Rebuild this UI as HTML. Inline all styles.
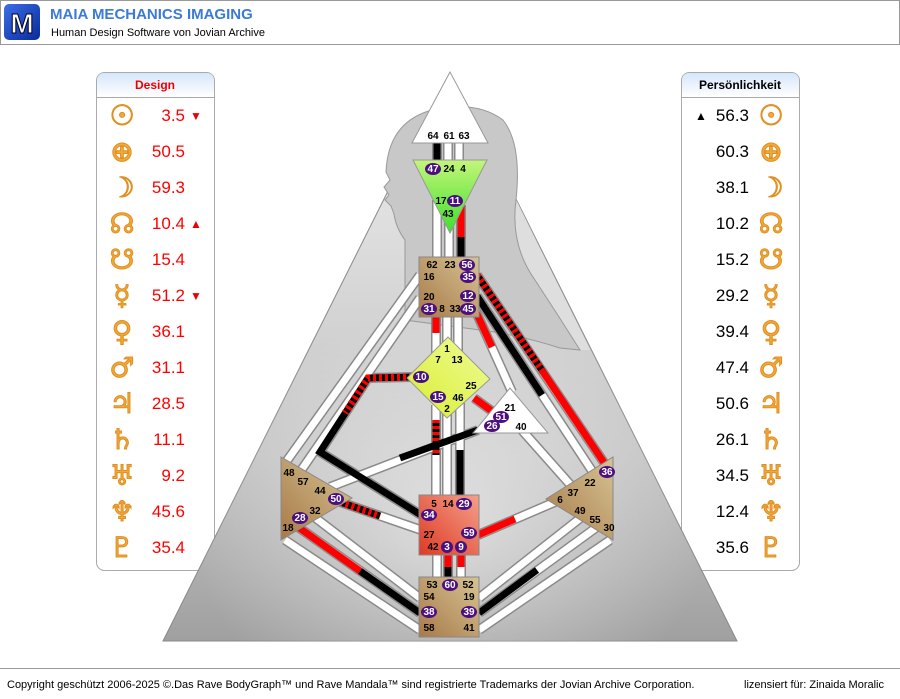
<!DOCTYPE html>
<html><head><meta charset="utf-8"><style>
body{margin:0;width:900px;height:699px;overflow:hidden;background:#fff;font-family:"Liberation Sans",sans-serif}
svg{display:block}
.o{stroke:#8a8a8a;stroke-width:10;fill:none}
.w{stroke:#fff;stroke-width:7;fill:none}
.k{stroke:#000;stroke-width:7;fill:none}
.r{stroke:#f00;stroke-width:7;fill:none}
.s{stroke:#f00;stroke-width:7;fill:none;stroke-dasharray:3 3}
.l{font:bold 10px "Liberation Sans",sans-serif;fill:#000;text-anchor:middle}
.v{font:bold 10px "Liberation Sans",sans-serif;fill:#fff;text-anchor:middle}
.pl{font:bold 28px "DejaVu Sans",sans-serif;fill:#f2a83a;stroke:#e09020;stroke-width:1;text-anchor:middle}
.dv{font:17px "Liberation Sans",sans-serif;fill:#f00;text-anchor:end}
.pv{font:17px "Liberation Sans",sans-serif;fill:#000;text-anchor:end}
</style></head><body>
<svg width="900" height="699" viewBox="0 0 900 699">
<defs>
<linearGradient id="bg" x1="0" y1="0" x2="0" y2="1"><stop offset="0" stop-color="#e4e4e4"/><stop offset=".6" stop-color="#c4c4c4"/><stop offset="1" stop-color="#a0a0a0"/></linearGradient>
<radialGradient id="rg" cx=".5" cy=".75" r=".45"><stop offset="0" stop-color="#fff" stop-opacity=".55"/><stop offset="1" stop-color="#fff" stop-opacity="0"/></radialGradient>
<linearGradient id="ph" x1="0" y1="0" x2="0" y2="1"><stop offset="0" stop-color="#d6e6fb"/><stop offset="1" stop-color="#fff"/></linearGradient>
<linearGradient id="tan" x1="0" y1="1" x2="1" y2="0"><stop offset="0" stop-color="#a87a48"/><stop offset="1" stop-color="#d6c394"/></linearGradient>
<linearGradient id="grn" x1="0" y1="0" x2="0" y2="1"><stop offset="0" stop-color="#c4f57a"/><stop offset="1" stop-color="#3ee02a"/></linearGradient>
<linearGradient id="yel" x1="0" y1="1" x2="1" y2="0"><stop offset="0" stop-color="#d8ee30"/><stop offset="1" stop-color="#f0fb98"/></linearGradient>
<linearGradient id="red" x1="0" y1="1" x2="1" y2="0"><stop offset="0" stop-color="#de3a24"/><stop offset="1" stop-color="#f4a08a"/></linearGradient>
<linearGradient id="lg" x1="0" y1="0" x2="1" y2="1"><stop offset="0" stop-color="#3a6ee8"/><stop offset="1" stop-color="#0a2a9a"/></linearGradient>
</defs>
<!-- header -->
<rect x="0.5" y="0.5" width="899" height="44" fill="#fff" stroke="#999"/>
<rect x="4" y="4" width="36" height="36" rx="5" fill="url(#lg)"/>
<text x="22" y="33" font-family="Liberation Sans" font-weight="bold" font-size="28" fill="#fff" text-anchor="middle" stroke="#002" stroke-width="1">M</text>
<text x="50" y="19" font-family="Liberation Sans" font-weight="bold" font-size="15" fill="#3a7ad8">MAIA MECHANICS IMAGING</text>
<text x="51" y="36" font-family="Liberation Sans" font-size="11" fill="#000">Human Design Software von Jovian Archive</text>
<!-- footer -->
<line x1="0" y1="668.5" x2="900" y2="668.5" stroke="#999"/>
<text x="7" y="688" font-family="Liberation Sans" font-size="11" fill="#000">Copyright geschützt 2006-2025 ©.Das Rave BodyGraph™ und Rave Mandala™ sind registrierte Trademarks der Jovian Archive Corporation.</text>
<text x="884" y="688" font-family="Liberation Sans" font-size="11" fill="#000" text-anchor="end">lizensiert für: Zinaida Moralic</text>

<!-- left panel -->
<rect x="96.5" y="72.5" width="118" height="498" rx="8" fill="#fff" stroke="#aaa"/>
<path d="M97 97 V81 Q97 73 105 73 H206 Q214 73 214 81 V97 Z" fill="url(#ph)"/>
<line x1="97" y1="97.5" x2="214" y2="97.5" stroke="#aaa"/>
<text x="155" y="89" font-family="Liberation Sans" font-weight="bold" font-size="12" fill="#e00" text-anchor="middle">Design</text>
<!-- right panel -->
<rect x="681.5" y="72.5" width="118" height="498" rx="8" fill="#fff" stroke="#aaa"/>
<path d="M682 97 V81 Q682 73 690 73 H791 Q799 73 799 81 V97 Z" fill="url(#ph)"/>
<line x1="682" y1="97.5" x2="799" y2="97.5" stroke="#aaa"/>
<text x="740" y="89" font-family="Liberation Sans" font-weight="bold" font-size="12" fill="#000" text-anchor="middle">Persönlichkeit</text>

<g>
<text class="pl" x="122" y="125">☉</text><text class="dv" x="185" y="121">3.5</text><text x="196" y="120" font-size="12" fill="#e00" text-anchor="middle">▼</text>
<text class="pl" x="122" y="161">⊕</text><text class="dv" x="185" y="157">50.5</text>
<text class="pl" x="122" y="197">☽</text><text class="dv" x="185" y="193">59.3</text>
<text class="pl" x="122" y="233">☊</text><text class="dv" x="185" y="229">10.4</text><text x="196" y="228" font-size="12" fill="#e00" text-anchor="middle">▲</text>
<text class="pl" x="122" y="269">☋</text><text class="dv" x="185" y="265">15.4</text>
<text class="pl" x="122" y="305">☿</text><text class="dv" x="185" y="301">51.2</text><text x="196" y="300" font-size="12" fill="#e00" text-anchor="middle">▼</text>
<text class="pl" x="122" y="341">♀</text><text class="dv" x="185" y="337">36.1</text>
<text class="pl" x="122" y="377">♂</text><text class="dv" x="185" y="373">31.1</text>
<text class="pl" x="122" y="413">♃</text><text class="dv" x="185" y="409">28.5</text>
<text class="pl" x="122" y="449">♄</text><text class="dv" x="185" y="445">11.1</text>
<text class="pl" x="122" y="485">♅</text><text class="dv" x="185" y="481">9.2</text>
<text class="pl" x="122" y="521">♆</text><text class="dv" x="185" y="517">45.6</text>
<text class="pl" x="122" y="557">♇</text><text class="dv" x="185" y="553">35.4</text>
</g>
<g>
<text x="701" y="120" font-size="12" fill="#000" text-anchor="middle">▲</text><text class="pv" x="749" y="121">56.3</text><text class="pl" x="771" y="125">☉</text>
<text class="pv" x="749" y="157">60.3</text><text class="pl" x="771" y="161">⊕</text>
<text class="pv" x="749" y="193">38.1</text><text class="pl" x="771" y="197">☽</text>
<text class="pv" x="749" y="229">10.2</text><text class="pl" x="771" y="233">☊</text>
<text class="pv" x="749" y="265">15.2</text><text class="pl" x="771" y="269">☋</text>
<text class="pv" x="749" y="301">29.2</text><text class="pl" x="771" y="305">☿</text>
<text class="pv" x="749" y="337">39.4</text><text class="pl" x="771" y="341">♀</text>
<text class="pv" x="749" y="373">47.4</text><text class="pl" x="771" y="377">♂</text>
<text class="pv" x="749" y="409">50.6</text><text class="pl" x="771" y="413">♃</text>
<text class="pv" x="749" y="445">26.1</text><text class="pl" x="771" y="449">♄</text>
<text class="pv" x="749" y="481">34.5</text><text class="pl" x="771" y="485">♅</text>
<text class="pv" x="749" y="517">12.4</text><text class="pl" x="771" y="521">♆</text>
<text class="pv" x="749" y="553">35.6</text><text class="pl" x="771" y="557">♇</text>
</g>

<!-- background triangle (top hidden behind head) -->
<polygon points="396,175 504,175 737,641 163,641" fill="url(#bg)" stroke="#888"/>
<polygon points="396,175 504,175 737,641 163,641" fill="url(#rg)"/>
<!-- light band right of head -->
<path d="M504,175 L590,350 L578,350 Q555,310 535,280 Q510,245 516,200 Z" fill="#dedede"/>
<!-- silhouette -->
<path d="M405,320 L405,240 Q396,228 394,214 L391,206 L385,200 L389,195 L384,187 L390,180 L386,172 Q388,122 432,110 Q476,100 503,120 Q522,144 516,200 Q510,245 535,280 Q558,315 580,350 L560,348 Q520,335 480,330 Z" fill="#c8c8c8" stroke="#999"/>

<!-- channels: outlines -->
<g class="o">
<line x1="437" y1="140" x2="437" y2="164"/><line x1="448" y1="140" x2="448" y2="164"/><line x1="459" y1="140" x2="459" y2="164"/>
<line x1="437" y1="200" x2="437" y2="259"/><line x1="449" y1="215" x2="449" y2="259"/><line x1="461" y1="205" x2="461" y2="259"/>
<line x1="436" y1="316" x2="436" y2="362"/><line x1="447" y1="316" x2="447" y2="345"/><line x1="458" y1="316" x2="458" y2="358"/>
<line x1="477" y1="275" x2="609" y2="470"/><line x1="477" y1="296" x2="598" y2="480"/><line x1="476" y1="312" x2="512" y2="392"/>
<line x1="420" y1="275" x2="286" y2="462"/><line x1="420" y1="298" x2="300" y2="472"/>
<polyline points="412,377 368,378 320,452 421,515"/>
<line x1="436" y1="405" x2="436" y2="497"/><line x1="447" y1="412" x2="447" y2="497"/><line x1="460" y1="403" x2="460" y2="497"/>
<line x1="474" y1="398" x2="500" y2="417"/>
<line x1="478" y1="430" x2="330" y2="487"/><line x1="520" y1="428" x2="575" y2="490"/>
<line x1="340" y1="502" x2="421" y2="530"/><line x1="478" y1="535" x2="555" y2="502"/>
<line x1="437" y1="553" x2="437" y2="579"/><line x1="448" y1="553" x2="448" y2="579"/><line x1="461" y1="553" x2="461" y2="579"/>
<line x1="420" y1="630" x2="285" y2="540"/><line x1="420" y1="613" x2="298" y2="527"/><line x1="420" y1="598" x2="313" y2="516"/>
<line x1="479" y1="630" x2="610" y2="540"/><line x1="479" y1="613" x2="597" y2="527"/><line x1="479" y1="598" x2="583" y2="516"/>
</g>
<g class="w">
<line x1="437" y1="140" x2="437" y2="164"/><line x1="448" y1="140" x2="448" y2="164"/><line x1="459" y1="140" x2="459" y2="164"/>
<line x1="437" y1="200" x2="437" y2="259"/><line x1="449" y1="215" x2="449" y2="259"/><line x1="461" y1="205" x2="461" y2="259"/>
<line x1="436" y1="316" x2="436" y2="362"/><line x1="447" y1="316" x2="447" y2="345"/><line x1="458" y1="316" x2="458" y2="358"/>
<line x1="477" y1="275" x2="609" y2="470"/><line x1="477" y1="296" x2="598" y2="480"/><line x1="476" y1="312" x2="512" y2="392"/>
<line x1="420" y1="275" x2="286" y2="462"/><line x1="420" y1="298" x2="300" y2="472"/>
<polyline points="412,377 368,378 320,452 421,515"/>
<line x1="436" y1="405" x2="436" y2="497"/><line x1="447" y1="412" x2="447" y2="497"/><line x1="460" y1="403" x2="460" y2="497"/>
<line x1="474" y1="398" x2="500" y2="417"/>
<line x1="478" y1="430" x2="330" y2="487"/><line x1="520" y1="428" x2="575" y2="490"/>
<line x1="340" y1="502" x2="421" y2="530"/><line x1="478" y1="535" x2="555" y2="502"/>
<line x1="437" y1="553" x2="437" y2="579"/><line x1="448" y1="553" x2="448" y2="579"/><line x1="461" y1="553" x2="461" y2="579"/>
<line x1="420" y1="630" x2="285" y2="540"/><line x1="420" y1="613" x2="298" y2="527"/><line x1="420" y1="598" x2="313" y2="516"/>
<line x1="479" y1="630" x2="610" y2="540"/><line x1="479" y1="613" x2="597" y2="527"/><line x1="479" y1="598" x2="583" y2="516"/>
</g>
<!-- activations -->
<line class="k" x1="437" y1="142" x2="437" y2="162"/>
<line class="r" x1="461" y1="205" x2="461" y2="237"/><line class="k" x1="461" y1="237" x2="461" y2="258"/>
<line class="r" x1="436" y1="316" x2="436" y2="333"/>
<line class="k" x1="477" y1="275" x2="543" y2="372"/><line class="s" x1="477" y1="275" x2="543" y2="372"/><line class="r" x1="543" y1="372" x2="609" y2="470"/>
<line class="k" x1="477" y1="296" x2="542" y2="395"/>
<line class="r" x1="476" y1="312" x2="492" y2="347"/>
<polyline class="k" points="412,377 368,378 320,452 421,515"/>
<polyline class="s" points="412,377 368,378 345,413"/>
<line class="k" x1="436" y1="420" x2="436" y2="455"/><line class="s" x1="436" y1="420" x2="436" y2="455"/>
<line class="k" x1="460" y1="450" x2="460" y2="496"/>
<line class="r" x1="474" y1="398" x2="500" y2="417"/>
<line class="k" x1="478" y1="430" x2="400" y2="458"/>
<line class="k" x1="340" y1="502" x2="380" y2="516"/><line class="s" x1="340" y1="502" x2="380" y2="516"/>
<line class="r" x1="478" y1="535" x2="515" y2="519"/>
<line class="r" x1="448" y1="555" x2="448" y2="567"/><line class="k" x1="448" y1="567" x2="448" y2="578"/>
<line class="r" x1="461" y1="555" x2="461" y2="567"/>
<line class="k" x1="420" y1="613" x2="360" y2="571"/><line class="r" x1="360" y1="571" x2="298" y2="527"/>
<line class="k" x1="479" y1="613" x2="537" y2="570"/>

<!-- centers -->
<polygon points="450,72 412,143 488,143" fill="#fff" stroke="#999"/>
<polygon points="413,160 487,160 450,233" fill="url(#grn)" stroke="#999"/>
<rect x="419" y="257" width="60" height="60" fill="url(#tan)" stroke="#888"/>
<polygon points="448,337 490,379 447,418 407,378" fill="url(#yel)" stroke="#999"/>
<polygon points="473,433 548,433 510,388" fill="#fff" stroke="#999"/>
<polygon points="281,457 281,540 352,498" fill="url(#tan)" stroke="#888"/>
<polygon points="613,457 613,540 546,499" fill="url(#tan)" stroke="#888"/>
<rect x="419" y="495" width="60" height="60" fill="url(#red)" stroke="#888"/>
<rect x="419" y="577" width="60" height="60" fill="url(#tan)" stroke="#888"/>
<!-- ovals -->
<g fill="#4b0f7f">
<ellipse cx="433" cy="169" rx="8" ry="6"/><ellipse cx="455" cy="201" rx="8" ry="6"/>
<ellipse cx="467" cy="265" rx="8" ry="6"/><ellipse cx="468" cy="277" rx="8" ry="6"/><ellipse cx="468" cy="296" rx="8" ry="6"/><ellipse cx="429" cy="309" rx="8" ry="6"/><ellipse cx="468" cy="309" rx="8" ry="6"/>
<ellipse cx="421" cy="377" rx="8" ry="6"/><ellipse cx="438" cy="397" rx="8" ry="6"/>
<ellipse cx="501" cy="417" rx="8" ry="6"/><ellipse cx="492" cy="426" rx="8" ry="6"/>
<ellipse cx="336" cy="499" rx="8" ry="6"/><ellipse cx="300" cy="518" rx="8" ry="6"/>
<ellipse cx="607" cy="472" rx="8" ry="6"/>
<ellipse cx="464" cy="504" rx="8" ry="6"/><ellipse cx="429" cy="515" rx="8" ry="6"/><ellipse cx="469" cy="533" rx="8" ry="6"/><ellipse cx="447" cy="547" rx="6" ry="6"/><ellipse cx="461" cy="547" rx="6" ry="6"/>
<ellipse cx="450" cy="585" rx="8" ry="6"/><ellipse cx="429" cy="612" rx="8" ry="6"/><ellipse cx="469" cy="612" rx="8" ry="6"/>
</g>
<g class="v">
<text x="433" y="172">47</text><text x="455" y="204">11</text>
<text x="467" y="268">56</text><text x="468" y="280">35</text><text x="468" y="299">12</text><text x="429" y="312">31</text><text x="468" y="312">45</text>
<text x="421" y="380">10</text><text x="438" y="400">15</text>
<text x="501" y="420">51</text><text x="492" y="429">26</text>
<text x="336" y="502">50</text><text x="300" y="521">28</text>
<text x="607" y="475">36</text>
<text x="464" y="507">29</text><text x="429" y="518">34</text><text x="469" y="536">59</text><text x="447" y="550">3</text><text x="461" y="550">9</text>
<text x="450" y="588">60</text><text x="429" y="615">38</text><text x="469" y="615">39</text>
</g>
<g class="l">
<text x="433" y="139">64</text><text x="449" y="139">61</text><text x="464" y="139">63</text>
<text x="449" y="172">24</text><text x="463" y="172">4</text><text x="441" y="204">17</text><text x="448" y="217">43</text>
<text x="432" y="268">62</text><text x="450" y="268">23</text><text x="429" y="280">16</text><text x="429" y="300">20</text><text x="442" y="312">8</text><text x="455" y="312">33</text>
<text x="447" y="352">1</text><text x="438" y="363">7</text><text x="457" y="363">13</text><text x="471" y="389">25</text><text x="458" y="401">46</text><text x="447" y="412">2</text>
<text x="510" y="411">21</text><text x="521" y="430">40</text>
<text x="289" y="476">48</text><text x="303" y="485">57</text><text x="320" y="494">44</text><text x="315" y="514">32</text><text x="288" y="531">18</text>
<text x="590" y="486">22</text><text x="573" y="496">37</text><text x="560" y="503">6</text><text x="580" y="514">49</text><text x="595" y="523">55</text><text x="609" y="531">30</text>
<text x="434" y="507">5</text><text x="448" y="507">14</text><text x="429" y="538">27</text><text x="433" y="550">42</text>
<text x="432" y="588">53</text><text x="468" y="588">52</text><text x="429" y="600">54</text><text x="469" y="600">19</text><text x="429" y="631">58</text><text x="469" y="631">41</text>
</g>
</svg>
</body></html>
